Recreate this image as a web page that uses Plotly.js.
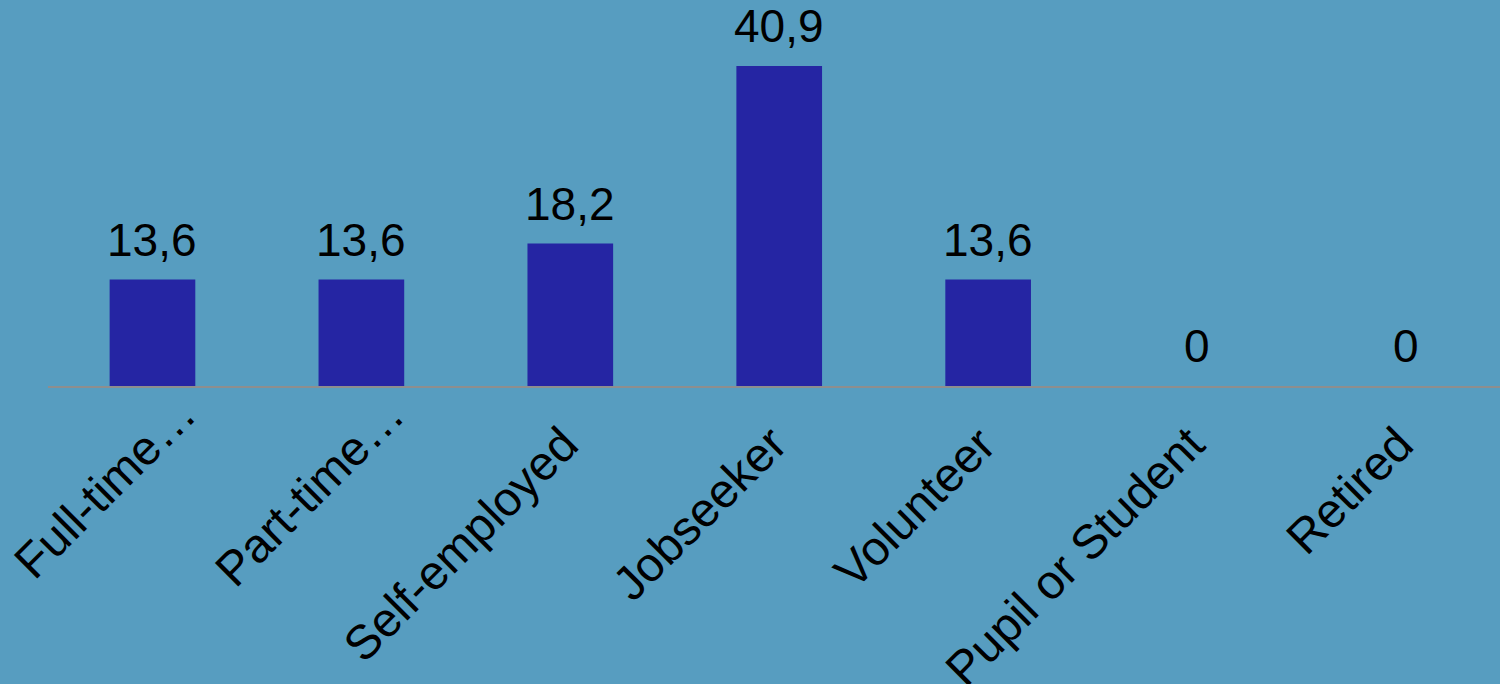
<!DOCTYPE html>
<html>
<head>
<meta charset="utf-8">
<script src="https://cdn.plot.ly/plotly-3.0.1.min.js"></script>
<style>html,body{margin:0;padding:0;background:#579DC0;}#chart{width:1500px;height:684px;}</style>
</head>
<body>
<div id="chart"></div>
<script>
const categories = ["Full-time…", "Part-time…", "Self-employed", "Jobseeker", "Volunteer", "Pupil or Student", "Retired"];
const values = [13.6, 13.6, 18.2, 40.9, 13.6, 0, 0];
const valueLabels = ["13,6", "13,6", "18,2", "40,9", "13,6", "0", "0"];

const FONT = "Liberation Sans, Arial, sans-serif";

const trace = {
  type: "bar",
  x: categories,
  y: values,
  marker: {color: "#2525A3", line: {color: "#141458", width: 0}},
  hoverinfo: "none"
};

const valueAnnotations = categories.map((c, i) => ({
  x: c, y: values[i], xref: "x", yref: "y",
  text: valueLabels[i], showarrow: false,
  yanchor: "bottom", yshift: 12,
  font: {family: FONT, size: 46, color: "#000000"}
}));

// category labels drawn as rotated annotations at each category position
const tickAnnotations = categories.map((c) => {
  const truncated = c.endsWith("…");
  return {
    x: c, y: 0, xref: "x", yref: "y",
    text: c, showarrow: false, textangle: -45,
    xanchor: "right", yanchor: "top",
    xshift: truncated ? 56 : 20,
    yshift: truncated ? 2 : -28,
    font: {family: FONT, size: 48, color: "#000000"}
  };
});

const layout = {
  width: 1500, height: 684,
  paper_bgcolor: "#579DC0", plot_bgcolor: "#579DC0",
  margin: {l: 48, r: 0, t: 0, b: 298},
  bargap: 0.59,
  showlegend: false,
  xaxis: {
    type: "category",
    range: [-0.5, 6.45],
    showline: true, linecolor: "#8E8E8E", linewidth: 2,
    showgrid: false, zeroline: false, ticks: "",
    showticklabels: false,
    fixedrange: true
  },
  yaxis: {
    range: [0, 49.33],
    visible: false, showgrid: false, zeroline: false,
    fixedrange: true
  },
  annotations: valueAnnotations.concat(tickAnnotations)
};

Plotly.newPlot("chart", [trace], layout, {displayModeBar: false, staticPlot: true});
</script>
</body>
</html>
